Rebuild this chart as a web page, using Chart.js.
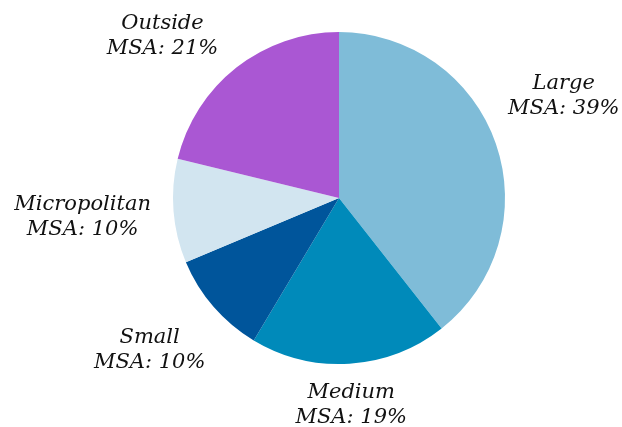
<!DOCTYPE html>
<html>
<head>
<meta charset="utf-8">
<script src="https://cdn.jsdelivr.net/npm/chart.js@4"></script>
<style>
  html, body { margin: 0; padding: 0; background: #fff; }
  #wrap { width: 622px; height: 427px; }
</style>
</head>
<body>
<div id="wrap"><canvas id="pieChart" width="622" height="427"></canvas></div>
<script>
// data
var categories = ["Large", "Medium", "Small", "Micropolitan", "Outside"];
var shares = [39, 19, 10, 10, 21];
var sliceColors = ["#7fbcd8", "#008aba", "#00559b", "#d2e5f0", "#aa57d3"];

// label placement: distance factor along slice middle plus a small nudge
var labelDist = 1.35;
var labelNudge = [[13, -29], [-2, -17], [-20, 5], [-33, 1], [-38, 14]];

var outsideLabels = {
    id: "outsideLabels",
    afterDraw: function (chart) {
        var ctx = chart.ctx;
        var arcs = chart.getDatasetMeta(0).data;
        ctx.save();
        ctx.fillStyle = "#111";
        ctx.font = "italic 21px 'DejaVu Serif', serif";
        ctx.textAlign = "center";
        ctx.textBaseline = "middle";
        for (var i = 0; i < arcs.length; i++) {
            var a = arcs[i];
            var mid = (a.startAngle + a.endAngle) / 2;
            var x = a.x + Math.cos(mid) * a.outerRadius * labelDist + labelNudge[i][0];
            var y = a.y + Math.sin(mid) * a.outerRadius * labelDist + labelNudge[i][1];
            ctx.fillText(categories[i], x, y - 12.5);
            ctx.fillText("MSA: " + shares[i] + "%", x, y + 12.5);
        }
        ctx.restore();
    }
};

var ctxPie = document.getElementById("pieChart");
var myPieChart = new Chart(ctxPie, {
    type: "pie",
    data: {
        labels: categories,
        datasets: [{
            data: shares,
            backgroundColor: sliceColors,
            borderWidth: 0
        }]
    },
    options: {
        responsive: false,
        animation: false,
        layout: { padding: { top: 32, bottom: 63, left: 173, right: 117 } },
        plugins: {
            legend: { display: false },
            tooltip: { enabled: false }
        }
    },
    plugins: [outsideLabels]
});
</script>
</body>
</html>
